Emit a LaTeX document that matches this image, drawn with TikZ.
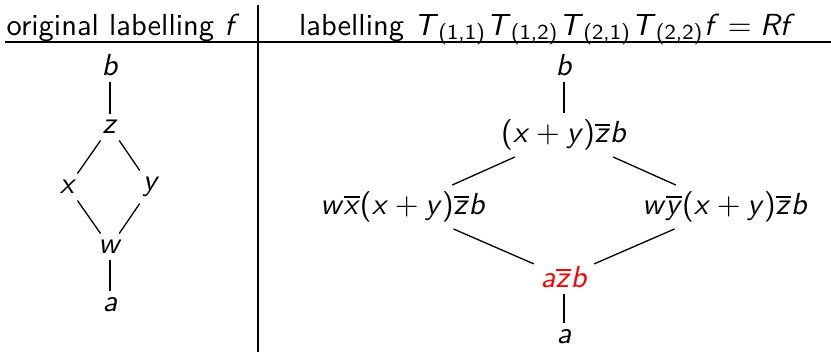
\documentclass[tikz,border=0pt]{standalone}
\newcommand\vi[1]{\textit{#1}}
\newcommand\ovl[1]{\vbox{\hrule height0.45pt\kern1.1pt\hbox{\textit{#1}}}}
\newcommand\sbs[1]{\raisebox{-1.6pt}{\fontsize{7}{8}\selectfont #1}\hspace{0.6pt}}
\newcommand\bop[1]{\hspace{0.22em}#1\hspace{0.22em}}
\newcommand\brel[1]{\hspace{0.28em}#1\hspace{0.28em}}
\tikzset{
  lab/.style={font=\sffamily, inner sep=2pt},
  edge/.style={line width=0.43pt},
  rule/.style={line width=0.43pt}
}
\begin{document}
\begin{tikzpicture}[x=0.328pt,y=-0.328pt]
\useasboundingbox (0,0) rectangle (831,352);
% table rules
\coordinate (hl) at (5,42);
\coordinate (hr) at (831,42);
\coordinate (vt) at (258,5);
\coordinate (vb) at (258,352);
\draw[rule] (hl) -- (hr);
\draw[rule] (vt) -- (vb);
% headers
\node[lab, anchor=base] (h1) at (123,35) {original labelling \vi{f}};
\node[lab, anchor=base] (h2) at (547,35) {labelling \vi{T}\sbs{(1,1)}\vi{T}\sbs{(1,2)}\vi{T}\sbs{(2,1)}\vi{T}\sbs{(2,2)}\vi{f}\brel{=}\vi{Rf}};
% left lattice
\node[lab] (lb) at (110,65) {\vi{b}};
\node[lab] (lz) at (110,127) {\vi{z}};
\node[lab] (lx) at (68,187) {\vi{x}};
\node[lab] (ly) at (151,187) {\vi{y}};
\node[lab] (lw) at (110,247) {\vi{w}};
\node[lab] (la) at (110,305) {\vi{a}};
\draw[edge] (lb) -- (lz);
\draw[edge] (lz) -- (lx);
\draw[edge] (lz) -- (ly);
\draw[edge] (lx) -- (lw);
\draw[edge] (ly) -- (lw);
\draw[edge] (lw) -- (la);
% right lattice
\node[lab] (rb) at (564,65) {\vi{b}};
\node[lab] (rt) at (564,135) {(\vi{x}\bop{+}\vi{y})\ovl{z}\vi{b}};
\node[lab] (rl) at (403,207) {\vi{w}\ovl{x}(\vi{x}\bop{+}\vi{y})\ovl{z}\vi{b}};
\node[lab] (rr) at (725,207) {\vi{w}\ovl{y}(\vi{x}\bop{+}\vi{y})\ovl{z}\vi{b}};
\node[lab, text=red] (rm) at (564,277) {\vi{a}\ovl{z}\vi{b}};
\node[lab] (ra) at (564,337) {\vi{a}};
\draw[edge] (rb) -- (rt);
\draw[edge] (rt) -- (rl);
\draw[edge] (rt) -- (rr);
\draw[edge] (rl) -- (rm);
\draw[edge] (rr) -- (rm);
\draw[edge] (rm) -- (ra);
\end{tikzpicture}
\end{document}
